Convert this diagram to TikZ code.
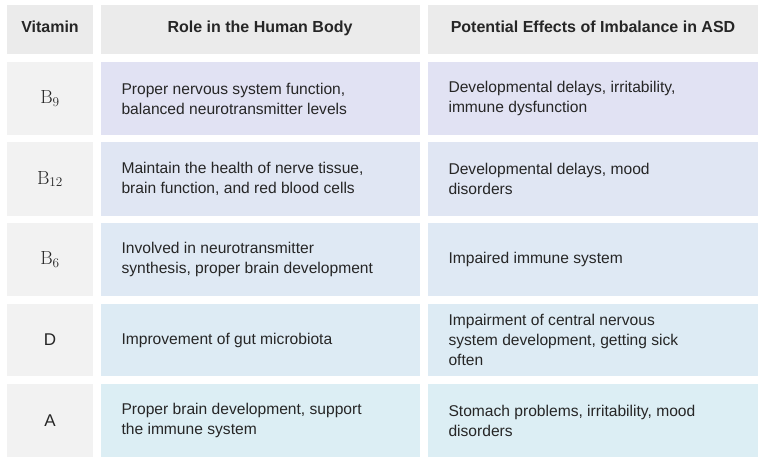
\documentclass[tikz,border=0pt]{standalone}
\usepackage{fontspec}
\setmainfont{Liberation Sans}
\newfontfamily\serifB{Latin Modern Roman}
\begin{document}
\begin{tikzpicture}[x=1pt,y=-1pt,
 txt/.style={anchor=west,align=left,font=\fontsize{15.6}{20}\selectfont,text=black!85},
 hd/.style={font=\fontsize{16}{18}\selectfont\bfseries,text=black!85,text height=11pt,text depth=3pt},
 vit/.style={font=\fontsize{19}{20}\selectfont\serifB,text=black!85}]
\useasboundingbox[fill=white] (0,0) rectangle (765,465);
\definecolor{hdg}{HTML}{EBEBEB}
\definecolor{vg}{HTML}{F2F2F2}
\definecolor{ra}{HTML}{E1E2F3}
\definecolor{rb}{HTML}{E0E6F3}
\definecolor{rc}{HTML}{DFE9F4}
\definecolor{rd}{HTML}{DDEBF4}
\definecolor{re}{HTML}{DCEEF4}
% header
\fill[hdg] (7,5) rectangle (93,54);
\fill[hdg] (101,5) rectangle (420,54);
\fill[hdg] (428,5) rectangle (758,54);
\node[hd] (h1) at (50,29) {Vitamin};
\node[hd] (h2) at (260,29) {Role in the Human Body};
\node[hd] (h3) at (593,29) {Potential Effects of Imbalance in ASD};
\foreach \t/\b/\c/\v/\r/\e [count=\i] in {
 62/135/ra/{B\textsubscript{9}}/{Proper nervous system function,\\balanced neurotransmitter levels}/{Developmental delays, irritability,\\immune dysfunction},
 142/216/rb/{B\textsubscript{12}}/{Maintain the health of nerve tissue,\\brain function, and red blood cells}/{Developmental delays, mood\\disorders},
 223/296/rc/{B\textsubscript{6}}/{Involved in neurotransmitter\\synthesis, proper brain development}/{Impaired immune system},
 304/376/rd/{D}/{Improvement of gut microbiota}/{Impairment of central nervous\\system development, getting sick\\often},
 384/457/re/{A}/{Proper brain development, support\\the immune system}/{Stomach problems, irritability, mood\\disorders}}{
 \fill[vg] (7,\t) rectangle (93,\b);
 \fill[\c] (101,\t) rectangle (420,\b);
 \fill[\c] (428,\t) rectangle (758,\b);
 \ifnum\i>3
 \node[txt,anchor=center,font=\fontsize{17}{18}\selectfont] (v\i) at (50,{(\t+\b)/2}) {\v};
 \else
 \node[vit] (v\i) at (50,{(\t+\b)/2}) {\v};
 \fi
 \node[txt] (r\i) at (118,{(\t+\b)/2}) {\r};
 \node[txt] (e\i) at (445,{(\t+\b)/2}) {\e};
}
\end{tikzpicture}
\end{document}
